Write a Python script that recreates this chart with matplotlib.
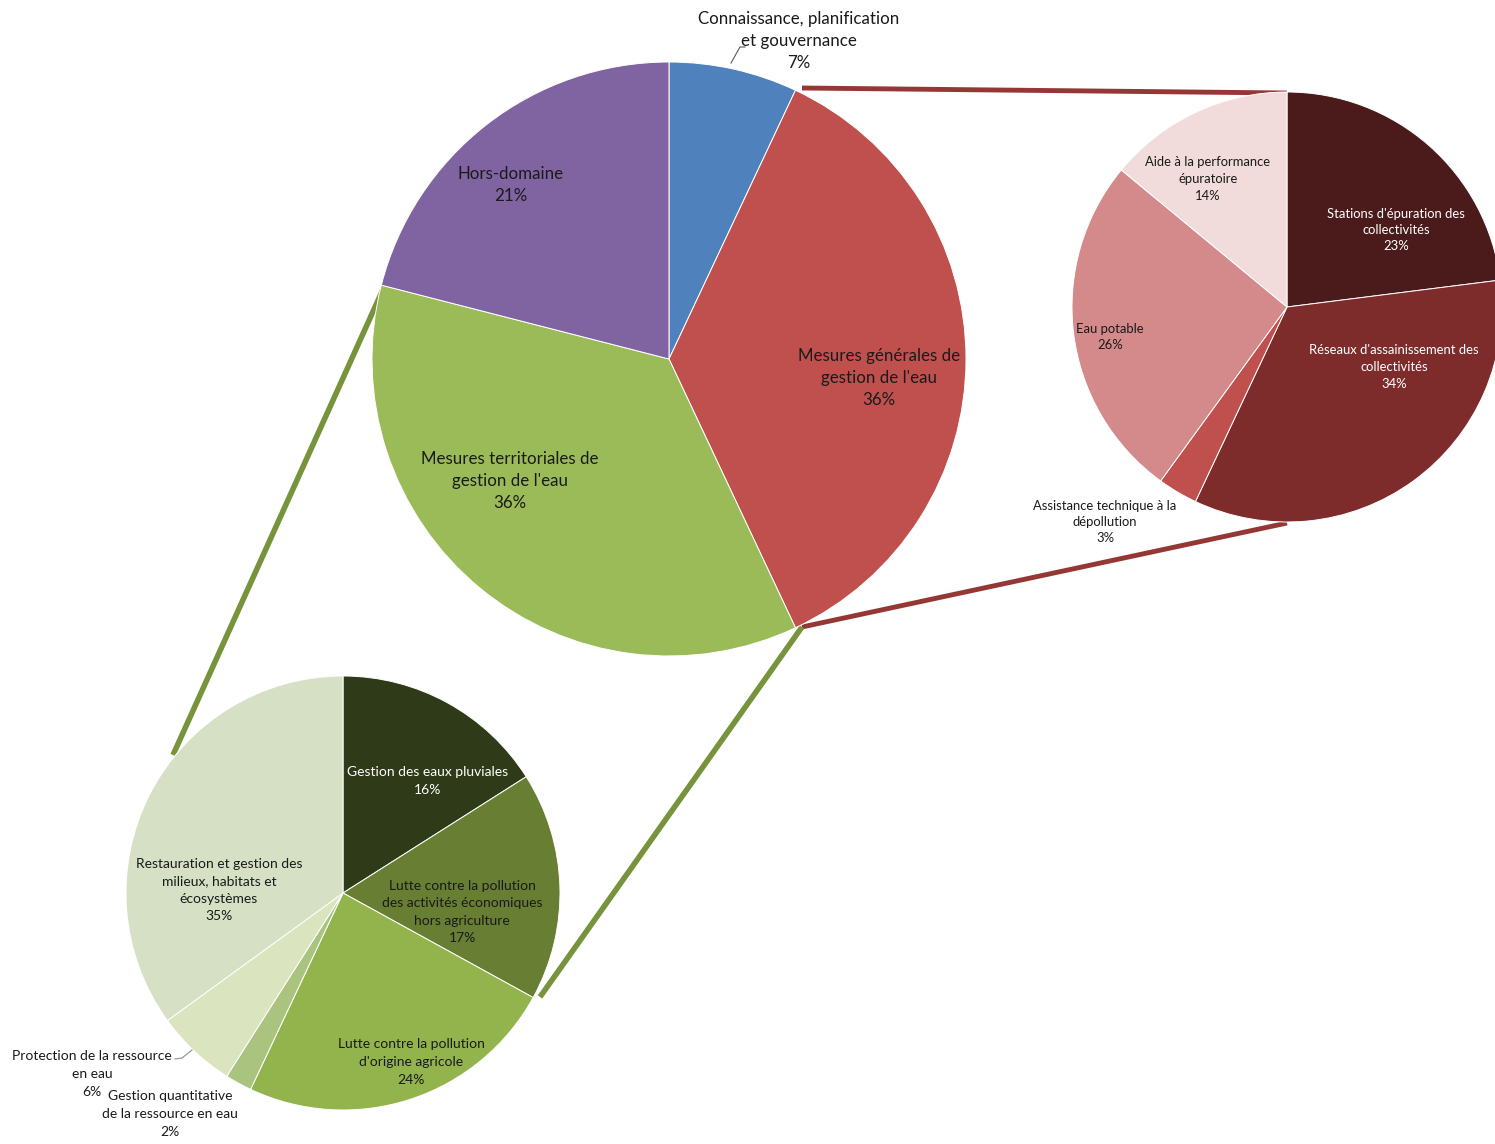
import matplotlib
matplotlib.use("Agg")
import matplotlib.pyplot as plt

plt.rcParams['font.family'] = ['Lato', 'DejaVu Sans']

W, H = 1495, 1144

# main pie
main_labels = ["Connaissance, planification\net gouvernance", "Mesures générales de\ngestion de l'eau",
               "Mesures territoriales de\ngestion de l'eau", "Hors-domaine"]
main_vals = [7, 36, 36, 21]
main_colors = ["#4F81BD", "#C0504D", "#9BBB59", "#8064A2"]

# detail of "Mesures générales"
gen_labels = ["Stations d'épuration des\ncollectivités", "Réseaux d'assainissement des\ncollectivités",
              "Assistance technique à la\ndépollution", "Eau potable", "Aide à la performance\népuratoire"]
gen_vals = [23, 34, 3, 26, 14]
gen_colors = ["#4B1A1A", "#7D2B2B", "#C0504D", "#D4898A", "#F2DCDB"]

# detail of "Mesures territoriales"
ter_labels = ["Gestion des eaux pluviales", "Lutte contre la pollution\ndes activités économiques\nhors agriculture",
              "Lutte contre la pollution\nd'origine agricole", "Gestion quantitative\nde la ressource en eau",
              "Protection de la ressource\nen eau", "Restauration et gestion des\nmilieux, habitats et\nécosystèmes"]
ter_vals = [16, 17, 24, 2, 6, 35]
ter_colors = ["#2F3A18", "#677E33", "#93B44D", "#AAC47F", "#DAE5C0", "#D6E0C5"]

fig = plt.figure(figsize=(W / 100, H / 100), dpi=100)
ax = fig.add_axes([0, 0, 1, 1])


def py(y):
    return H - y


# connector lines
ax.plot([802, 1287], [py(88), py(93)], color="#953735", lw=3.5, solid_capstyle='butt', zorder=1)
ax.plot([802, 1287], [py(627), py(523)], color="#953735", lw=3.5, solid_capstyle='butt', zorder=1)
ax.plot([385, 173], [py(285), py(755)], color="#77933C", lw=4, solid_capstyle='butt', zorder=1)
ax.plot([802, 540], [py(627), py(997)], color="#77933C", lw=4, solid_capstyle='butt', zorder=1)

wp = dict(edgecolor='white', linewidth=0.7)
ax.pie(main_vals, colors=main_colors, startangle=90, counterclock=False,
       center=(669, py(359)), radius=297, wedgeprops=wp, frame=True)
ax.pie(gen_vals, colors=gen_colors, startangle=90, counterclock=False,
       center=(1287, py(307)), radius=215, wedgeprops=wp, frame=True)
ax.pie(ter_vals, colors=ter_colors, startangle=90, counterclock=False,
       center=(343, py(893)), radius=217, wedgeprops=wp, frame=True)
ax.set_xlim(0, W)
ax.set_ylim(0, H)
ax.set_aspect('equal')
ax.axis('off')

# main labels
main_pos = [(799, 41), (879, 378), (510, 481), (511, 185)]
for lab, v, (x, y) in zip(main_labels, main_vals, main_pos):
    ax.text(x, py(y), f"{lab}\n{v}%", ha='center', va='center', fontsize=12.2,
            linespacing=1.45, color='#1a1a1a')
ax.plot([745, 740, 731], [py(47), py(47), py(63)], color='#595959', lw=0.8)

# general detail labels
gen_pos = [(1396, 230), (1394, 367), (1105, 522), (1110, 337), (1208, 179)]
gen_txt = ['white', 'white', '#1a1a1a', '#1a1a1a', '#1a1a1a']
for lab, v, (x, y), c in zip(gen_labels, gen_vals, gen_pos, gen_txt):
    ax.text(x, py(y), f"{lab}\n{v}%", ha='center', va='center', fontsize=9.4,
            linespacing=1.45, color=c)

# territorial detail labels
ter_pos = [(428, 781), (462, 912), (411, 1062), (170, 1114), (92, 1074), (219, 890)]
ter_txt = ['white', '#1a1a1a', '#1a1a1a', '#1a1a1a', '#1a1a1a', '#1a1a1a']
for lab, v, (x, y), c in zip(ter_labels, ter_vals, ter_pos, ter_txt):
    ax.text(x, py(y), f"{lab}\n{v}%", ha='center', va='center', fontsize=10,
            linespacing=1.55, color=c)
ax.plot([175, 182, 192], [py(1059), py(1058), py(1050)], color='#8c8c8c', lw=0.8)

fig.savefig("out.png", dpi=100, facecolor='white')
